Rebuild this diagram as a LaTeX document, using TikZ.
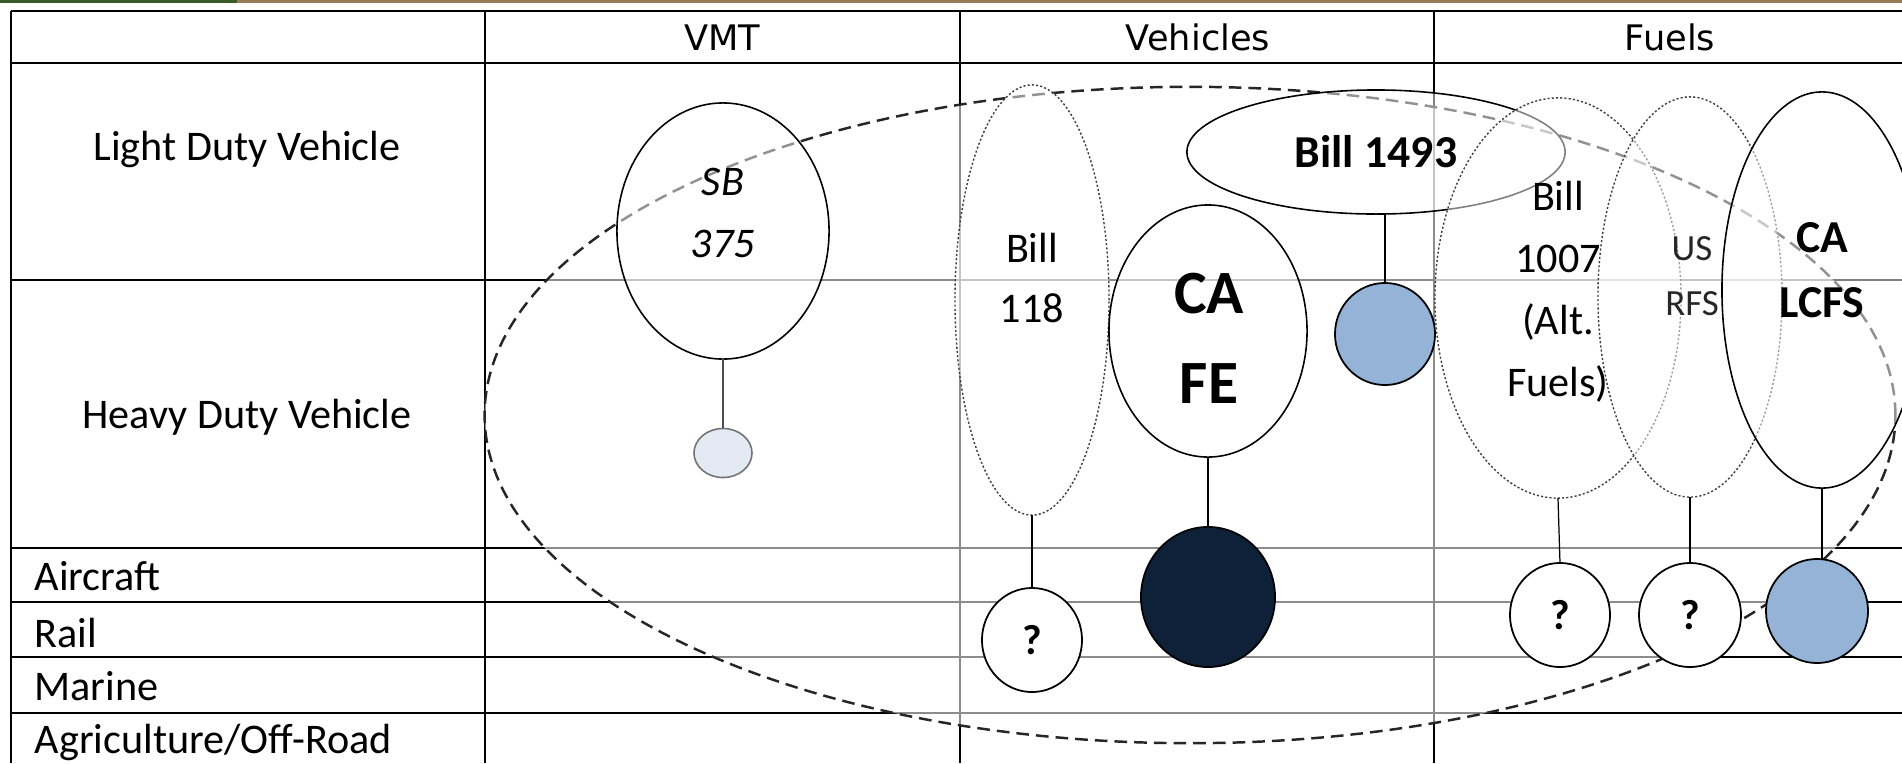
\documentclass[tikz,border=0pt]{standalone}
\usepackage{fontspec}
\setmainfont{Carlito}
\newfontfamily\hdrfont{DejaVu Sans}
\usetikzlibrary{shapes.geometric}
\definecolor{navy}{RGB}{15,33,57}
\definecolor{lblue}{RGB}{149,179,215}
\definecolor{pale}{RGB}{228,234,243}
\definecolor{brownbar}{RGB}{150,125,85}
\definecolor{dgreen}{RGB}{60,90,40}
\begin{document}
\begin{tikzpicture}[x=0.01cm,y=-0.01cm,
  grid/.style={line width=0.55pt,black},
  solidell/.style={ellipse,draw=black,line width=0.45pt,fill=white,fill opacity=0.5,text opacity=1,inner sep=0pt,outer sep=0pt},
  dotell/.style={ellipse,draw=black!75,dash pattern=on 0.6pt off 0.6pt,line width=0.4pt,fill=white,fill opacity=0.5,text opacity=1,inner sep=0pt,outer sep=0pt},
  disc/.style={ellipse,draw=black,line width=0.5pt,inner sep=0pt,outer sep=0pt,font=\bfseries\fontsize{12}{14}\selectfont},
  link/.style={line width=0.35pt,black},
  lbl/.style={font=\fontsize{12}{14}\selectfont,inner sep=0pt},
  hdr/.style={font=\hdrfont\fontsize{10}{12}\selectfont,inner sep=0pt},
]
\useasboundingbox (0,0) rectangle (1902,763);
\clip (0,0) rectangle (1902,763);
\fill[white] (0,0) rectangle (1902,763);
\fill[brownbar] (0,0) rectangle (1902,3);
\fill[dgreen] (0,0) rectangle (237,3);

% table
\foreach \y in {11,63,280,548,602,657,713} \draw[grid] (11,\y) -- (1902,\y);
\foreach \x in {11,485,960,1434} \draw[grid] (\x,11) -- (\x,763);

% headers
\node[hdr,anchor=base] (hvmt) at (722,50) {VMT};
\node[hdr,anchor=base] (hveh) at (1198,50) {Vehicles};
\node[hdr,anchor=base] (hfuel) at (1670,50) {Fuels};

% row labels
\node[lbl,anchor=base] (rldv) at (247,160) {Light Duty Vehicle};
\node[lbl,anchor=base] (rhdv) at (247,428) {Heavy Duty Vehicle};
\node[lbl,anchor=base west] (rair) at (34,590) {Aircraft};
\node[lbl,anchor=base west] (rrail) at (34,647) {Rail};
\node[lbl,anchor=base west] (rmar) at (34,700) {Marine};
\node[lbl,anchor=base west] (ragr) at (34,753) {Agriculture/Off-Road};

% big dashed scope ellipse
\node[ellipse,draw=black!85,dash pattern=on 3.6pt off 2pt,line width=0.7pt,fill=white,fill opacity=0.55,minimum width=14.10cm,minimum height=6.56cm,inner sep=0pt,outer sep=0pt] (scopeell) at (1190,415) {};

% VMT
\node[solidell,minimum width=2.12cm,minimum height=2.56cm] (sb) at (723,231) {};
\node[lbl,align=center,font=\itshape\fontsize{12}{17.6}\selectfont] (sbt) at (723,213) {SB\\375};
\node[ellipse,draw=black!55,fill=pale,line width=0.45pt,inner sep=0pt,outer sep=0pt,minimum width=0.58cm,minimum height=0.49cm] (sbd) at (723,453) {};
\draw[link,black!70] (sb.south) -- (sbd.north);

% Vehicles
\node[dotell,minimum width=1.54cm,minimum height=4.30cm] (b118) at (1032,300) {};
\node[lbl,align=center,font=\fontsize{12}{17}\selectfont] (b118t) at (1032,278) {Bill\\118};
\node[disc,fill=white,minimum width=1.00cm,minimum height=1.04cm] (q118) at (1032,640) {?};
\draw[link] (b118.south) -- (q118.north);

\node[solidell,minimum width=1.98cm,minimum height=2.52cm] (cafe) at (1208,331) {};
\node[lbl,align=center,font=\bfseries\fontsize{17.5}{25.6}\selectfont] (cafet) at (1209,338) {CA\\FE};
\node[disc,fill=navy,minimum width=1.34cm,minimum height=1.40cm] (cafed) at (1208,597) {};
\draw[link] (cafe.south) -- (cafed.north);

\node[solidell,minimum width=3.78cm,minimum height=1.24cm,font=\bfseries\fontsize{13}{15}\selectfont] (b1493) at (1376,152) {Bill 1493};
\node[disc,fill=lblue,minimum width=1.00cm,minimum height=1.02cm] (b1493d) at (1385,334) {};
\draw[link] (b1493.south -| b1493d.north) -- (b1493d.north);

% Fuels
\node[dotell,minimum width=2.46cm,minimum height=4.00cm] (b1007) at (1558,298) {};
\node[lbl,align=center,font=\fontsize{12}{17.6}\selectfont] (b1007t) at (1558,292) {Bill\\1007\\(Alt.\\Fuels)};
\node[disc,fill=white,minimum width=1.00cm,minimum height=1.04cm] (q1007) at (1560,615) {?};
\draw[link] (b1007.south) -- (q1007.north);

\node[dotell,minimum width=1.84cm,minimum height=4.00cm] (rfs) at (1690,297) {};
\node[lbl,align=center,text=black!85,font=\fontsize{10.5}{15.6}\selectfont] (rfst) at (1692,276) {US\\RFS};
\node[disc,fill=white,minimum width=1.02cm,minimum height=1.04cm] (qrfs) at (1690,615) {?};
\draw[line width=0.6pt] (rfs.south) -- (qrfs.north);

\node[solidell,minimum width=2.00cm,minimum height=3.96cm] (lcfs) at (1822,290) {};
\node[lbl,align=center,font=\bfseries\fontsize{13}{18.5}\selectfont] (lcfst) at (1822,270) {CA\\LCFS};
\node[disc,fill=lblue,minimum width=1.02cm,minimum height=1.04cm] (lcfsd) at (1817,611) {};
\draw[link] (lcfs.south) -- (lcfs.south |- lcfsd.north);
\end{tikzpicture}
\end{document}
